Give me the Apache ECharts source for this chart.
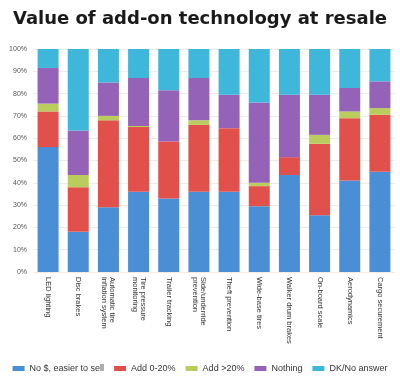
<!DOCTYPE html>
<html><head><meta charset="utf-8">
<script src="https://cdn.jsdelivr.net/npm/echarts@6/dist/echarts.min.js"></script>
<style>html,body{margin:0;padding:0;background:#fff}#c{width:400px;height:382px}</style>
</head><body><div id="c"></div>
<script>
const categories = ["LED lighting","Disc brakes","Automatic tire\ninflation system","Tire pressure\nmonitoring","Trailer tracking","Side/underride\nprevention","Theft prevention","Wide-base tires","Walker drum brakes","On-board scale","Aerodynamics","Cargo securement"];
const seriesNames = ["No $, easier to sell","Add 0-20%","Add >20%","Nothing","DK/No answer"];
const noValue   = [56, 18, 29, 36, 33, 36, 36, 29.5, 43.5, 25.5, 41, 45];
const add0to20  = [16, 20, 39, 29, 25.5, 30, 28.5, 9, 8, 32, 28, 25.5];
const addOver20 = [3.5, 5.5, 2, 0.5, 0, 2, 0, 1.5, 0, 4, 3, 3];
const nothing   = [16, 20, 15, 21.5, 23, 19, 15, 36, 28, 18, 10.5, 12];
const dkNoAns   = [8.5, 36.5, 15, 13, 18.5, 13, 20.5, 24, 20.5, 20.5, 17.5, 14.5];
const colors = ["#4a8ed6","#e2504b","#b9cc5c","#9462b6","#3eb7db"];
const allData = [noValue, add0to20, addOver20, nothing, dkNoAns];

const chart = echarts.init(document.getElementById('c'), null, {renderer:'canvas'});
chart.setOption({
  animation:false,
  backgroundColor:'#fff',
  title:{text:'Value of add-on technology at resale', left:'center', top:5,
    textStyle:{fontFamily:'DejaVu Sans', fontWeight:'bold', fontSize:18, color:'#1a1a1a'}},
  color: colors,
  legend:{bottom:4, left:'center', itemWidth:12, itemHeight:5, itemGap:10,
    icon:'rect', textStyle:{fontSize:9, color:'#333', fontFamily:'Liberation Sans'},
    data: seriesNames},
  grid:{left:33, right:5, top:49, bottom:110},
  xAxis:{type:'category', data:categories,
    axisLine:{show:false}, axisTick:{show:false},
    axisLabel:{rotate:-90, interval:0, fontSize:7.5, color:'#333', margin:5, lineHeight:8, fontFamily:'Liberation Sans'}},
  yAxis:{type:'value', min:0, max:100, interval:10,
    axisLabel:{formatter:'{value}%', fontSize:7, color:'#555', margin:6, fontFamily:'Liberation Sans'},
    splitLine:{lineStyle:{color:'#f3ebe3', width:1}}},
  series: seriesNames.map((n,i)=>({name:n, type:'bar', stack:'all', barWidth:21, data:allData[i]}))
});
</script></body></html>
